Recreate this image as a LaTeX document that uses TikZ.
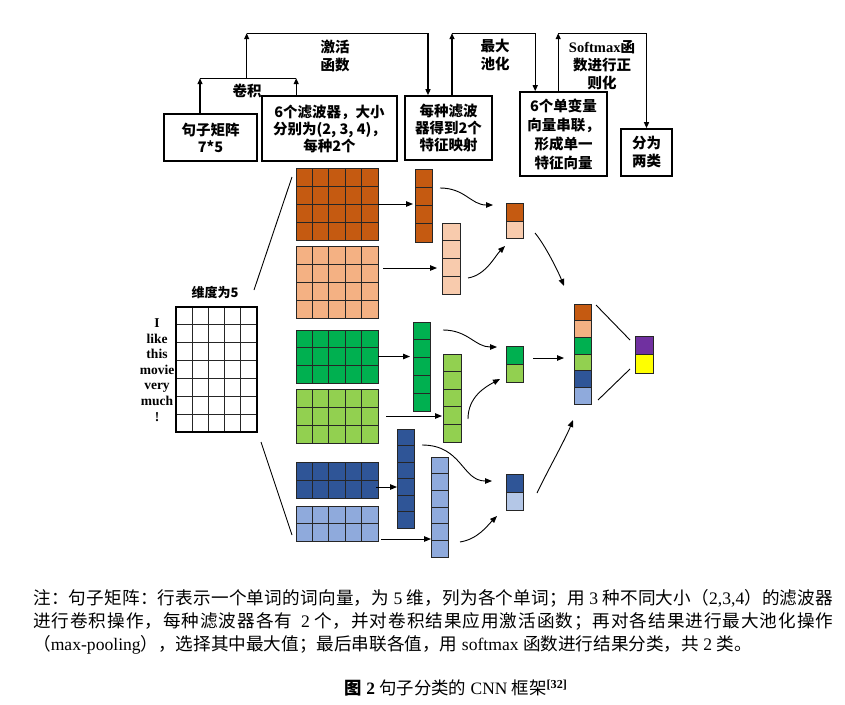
\documentclass[tikz,border=0pt]{standalone}
\usepackage{fontspec}
\setmainfont{Liberation Serif}
\newfontfamily\cjk{Noto Sans CJK SC}
\usetikzlibrary{arrows.meta,calc}
\definecolor{corg}{HTML}{C55A11}
\definecolor{cpch}{HTML}{F4B183}
\definecolor{cpcl}{HTML}{F8CBAD}
\definecolor{cgrn}{HTML}{00B050}
\definecolor{clgr}{HTML}{92D050}
\definecolor{cdbl}{HTML}{2F5597}
\definecolor{clbl}{HTML}{8FAADC}
\definecolor{clbx}{HTML}{B4C7E7}
\definecolor{cpur}{HTML}{7030A0}
\definecolor{cyel}{HTML}{FFFF00}
\newXeTeXintercharclass\mycjkclass
\count255="4E00
\loop
  \XeTeXcharclass\count255=\mycjkclass
  \advance\count255 by 1
\ifnum\count255<"9FB0 \repeat
\XeTeXcharclass"FF0C=\mycjkclass
\XeTeXcharclass"FF1A=\mycjkclass
\XeTeXcharclass"FF1B=\mycjkclass
\XeTeXcharclass"FF08=\mycjkclass
\XeTeXcharclass"FF09=\mycjkclass
\XeTeXcharclass"3002=\mycjkclass
\XeTeXinterchartoks\mycjkclass\mycjkclass={\hskip 0pt plus 1fil\relax}
\newcommand\mkblk[8]{\node[cells={#6}{#7}, fill=#8, minimum width={(#4)-(#2)}, minimum height={(#5)-(#3)}] (#1) at ({((#2)+(#4))/2},{((#3)+(#5))/2}) {};}
\tikzset{
  cells/.style 2 args={draw=black!85, line width=1pt, inner sep=0pt, outer sep=0pt,
    path picture={
      \pgfmathtruncatemacro\mycc{#1-1}\pgfmathtruncatemacro\myrr{#2-1}
      \ifnum\mycc>0
        \foreach \k in {1,...,\mycc}{\draw[line width=0.9pt,black!85] ($(path picture bounding box.south west)!\k/#1!(path picture bounding box.south east)$) -- ($(path picture bounding box.north west)!\k/#1!(path picture bounding box.north east)$);}
      \fi
      \ifnum\myrr>0
        \foreach \k in {1,...,\myrr}{\draw[line width=0.9pt,black!85] ($(path picture bounding box.north west)!\k/#2!(path picture bounding box.south west)$) -- ($(path picture bounding box.north east)!\k/#2!(path picture bounding box.south east)$);}
      \fi
    }},
  tbox/.style={draw, line width=1.6pt, inner sep=0pt, align=center,
    font=\cjk\bfseries\fontsize{14.5}{17}\selectfont},
  lbl/.style={inner sep=0pt, align=center, font=\cjk\bfseries\fontsize{14.5}{18}\selectfont},
  conn/.style={line width=1.3pt},
  tip/.style={-{Triangle[length=6pt,width=5pt]}},
  harr/.style={line width=1pt, -{Triangle[length=7pt,width=5.5pt]}},
  carr/.style={line width=0.9pt, -{Triangle[length=7pt,width=5.5pt]}},
  thinl/.style={line width=0.9pt},
  capl/.style={inner sep=0pt, anchor=west, font=\fontsize{17.6}{20}\selectfont},
}
\begin{document}
\begin{tikzpicture}[x=1pt,y=-1pt]
\useasboundingbox (0,0) rectangle (845,704);
\fill[white] (0,0) rectangle (845,704);

% top boxes
\node[tbox, minimum width=93pt, minimum height=47pt] (b1) at (210.5,137.5) {句子矩阵\\7*5};
\node[tbox, minimum width=135pt, minimum height=65pt] (b2) at (329.5,128.5) {6个滤波器，大小\\分别为(2, 3, 4)，\\每种2个};
\node[tbox, minimum width=87pt, minimum height=64pt] (b3) at (448.5,128) {每种滤波\\器得到2个\\特征映射};
\node[tbox, minimum width=87pt, minimum height=84pt, font=\cjk\bfseries\fontsize{14.5}{19}\selectfont] (b4) at (563.5,134) {6个单变量\\向量串联，\\形成单一\\特征向量};
\node[tbox, minimum width=51pt, minimum height=47pt, font=\cjk\bfseries\fontsize{14.5}{18}\selectfont] (b5) at (646.5,152.5) {分为\\两类};

% top connectors
\draw[conn,tip] ([xshift=-10.5pt]b1.north) -- ++(0,-35) coordinate (j1);
\draw[conn,tip] ([xshift=35pt]b2.north west) -- ++(0,-17) coordinate (j2);
\draw[conn] (j1) -- (j2);
\coordinate (j3) at ($(j1)!0.485!(j2)$);
\draw[conn,tip] (j3) -- ++(0,-45) coordinate (j4);
\draw[conn,tip] (j4) -| ([xshift=-20.5pt]b3.north);
\draw[conn,tip] ([xshift=3.5pt]b3.north) -- ++(0,-62) coordinate (j5);
\draw[conn,tip] (j5) -| ([xshift=16pt]b4.north west);
\draw[conn,tip] ([xshift=39pt]b4.north west) -- ++(0,-58) coordinate (j6);
\draw[conn,tip] (j6) -| (b5.north);

\node[lbl] (l1) at (247,91) {卷积};
\node[lbl] (l2) at (335,56) {激活\\函数};
\node[lbl] (l3) at (495,55) {最大\\池化};
\node[lbl] (l4) at (602,65) {{\rmfamily\bfseries Softmax}函\\数进行正\\则化};

% sentence matrix
\node[cells={5}{7}, fill=white, draw=black, line width=1.2pt, minimum width=81pt, minimum height=125pt] (mat) at (216.5,369.5) {};
\node[inner sep=0pt, align=center, font=\bfseries\fontsize{13.5}{15.6}\selectfont] (words) at (157,370) {I\\like\\this\\movie\\very\\much\\!};
\node[inner sep=0pt, font=\cjk\bfseries\fontsize{13}{15}\selectfont] (dim) at (215,293) {维度为5};

% filters
\mkblk{f1}{296}{168}{378}{240}{5}{4}{corg}
\mkblk{f2}{296}{246}{378}{318}{5}{4}{cpch}
\mkblk{f3}{296}{330}{378}{383}{5}{3}{cgrn}
\mkblk{f4}{296}{389}{378}{443}{5}{3}{clgr}
\mkblk{f5}{296}{462}{378}{498}{5}{2}{cdbl}
\mkblk{f6}{296}{506}{378}{541}{5}{2}{clbl}
% feature maps
\mkblk{m1}{415}{169}{432}{242}{1}{4}{corg}
\mkblk{m2}{442}{223}{460}{294}{1}{4}{cpcl}
\mkblk{m3}{413}{322}{430}{411}{1}{5}{cgrn}
\mkblk{m4}{443}{354}{461}{442}{1}{5}{clgr}
\mkblk{m5}{397}{429}{414}{528}{1}{6}{cdbl}
\mkblk{m6}{431}{457}{448}{557}{1}{6}{clbl}
% pooled
\mkblk{p1a}{506}{203}{523}{221}{1}{1}{corg}
\mkblk{p1b}{506}{221}{523}{238}{1}{1}{cpcl}
\mkblk{p2a}{506}{346}{523}{364}{1}{1}{cgrn}
\mkblk{p2b}{506}{364}{523}{382}{1}{1}{clgr}
\mkblk{p3a}{506}{474}{523}{492}{1}{1}{cdbl}
\mkblk{p3b}{506}{492}{523}{510}{1}{1}{clbx}
% concatenated
\mkblk{c1}{574}{304}{591}{320.7}{1}{1}{corg}
\mkblk{c2}{574}{320.7}{591}{337.3}{1}{1}{cpch}
\mkblk{c3}{574}{337.3}{591}{354}{1}{1}{cgrn}
\mkblk{c4}{574}{354}{591}{370.7}{1}{1}{clgr}
\mkblk{c5}{574}{370.7}{591}{387.3}{1}{1}{cdbl}
\mkblk{c6}{574}{387.3}{591}{404}{1}{1}{clbl}
% output
\mkblk{o1}{635}{336}{653}{354.5}{1}{1}{cpur}
\mkblk{o2}{635}{354.5}{653}{373}{1}{1}{cyel}

% matrix to filters
\draw[thinl] ([shift={(-3,-17)}]mat.north east) -- ([shift={(-4,9)}]f1.north west);
\draw[thinl] ([shift={(4,10)}]mat.south east) -- ([shift={(-4,-6)}]f6.south west);

% filters to maps
\draw[harr] (f1.east) -- ([xshift=-2pt]f1.east -| m1.west);
\coordinate (s2) at ([shift={(5,22)}]f2.north east);
\draw[harr] (s2) -- ([xshift=-5pt]s2 -| m2.west);
\draw[harr] (f3.east) -- ([xshift=-3pt]f3.east -| m3.west);
\draw[harr] ([xshift=8pt]f4.east) -- ([xshift=-1pt]f4.east -| m4.west);
\coordinate (s5) at ([shift={(-2,7)}]f5.east);
\draw[harr] (s5) -- (s5 -| m5.west);
\coordinate (s6) at ([shift={(3,15.5)}]f6.east);
\draw[harr] (s6) -- (s6 -| m6.west);

% maps to pooled
\draw[carr] ([shift={(8,19)}]m1.north east) .. controls +(25,0) and +(-22,0) .. ([shift={(-13,2)}]p1a.north west);
\draw[carr] ([shift={(8,55)}]m2.north east) .. controls +(18,-3) and +(-10,10) .. ([shift={(-1,8)}]p1b.south west);
\draw[carr] ([shift={(13,8)}]m3.north east) .. controls +(25,0) and +(-22,0) .. ([shift={(-9,1)}]p2a.north west);
\draw[carr] ([shift={(7,65)}]m4.north east) .. controls +(0,-22) and +(-15,8) .. ([shift={(-6,-3)}]p2b.south west);
\draw[carr] ([shift={(8,16)}]m5.north east) .. controls +(40,0) and +(-30,0) .. ([shift={(-14,7)}]p3a.north west);
\draw[carr] ([shift={(12,85)}]m6.north east) .. controls +(18,-3) and +(-10,10) .. ([shift={(-9,6)}]p3b.south west);

% pooled to concat
\draw[carr] ([shift={(12,-5)}]p1b.south east) .. controls +(10,12) and +(-6,-15) .. ([shift={(-10,-18)}]c1.north west);
\draw[carr] ([shift={(10,-6)}]p2a.south east) -- ([shift={(-10,4)}]c4.north west);
\draw[carr] ([shift={(14,1)}]p3a.south east) .. controls +(12,-25) and +(-8,20) .. ([shift={(-1,16)}]c6.south west);

% concat to output
\draw[thinl] ([shift={(5,1)}]c1.north east) -- ([shift={(-5,4)}]o1.north west);
\draw[thinl] ([shift={(7,-4)}]c6.south east) -- ([shift={(-5,-4)}]o2.south west);

% caption
\node[capl] (cap1) at (33,598) {\XeTeXinterchartokenstate=1 \makebox[800pt][s]{{\cjk 注：句子矩阵：行表示一个单词的词向量，为}\ 5\ {\cjk 维，列为各个单词；用}\ 3\ {\cjk 种不同大小（}2,3,4{\cjk ）的滤波器}}};
\node[capl] (cap2) at (33,621) {\XeTeXinterchartokenstate=1 \makebox[800pt][s]{{\cjk 进行卷积操作，每种滤波器各有}\ \ 2\ {\cjk 个，并对卷积结果应用激活函数；再对各结果进行最大池化操作}}};
\node[capl] (cap3) at (33,645) {{\cjk （}max-pooling{\cjk ），选择其中最大值；最后串联各值，用} softmax {\cjk 函数进行结果分类，共} 2 {\cjk 类。}};
\node[inner sep=0pt, font=\fontsize{17.4}{20}\selectfont] (title) at (456,688) {{\cjk\bfseries 图} {\bfseries 2} {\cjk 句子分类的} CNN {\cjk 框架}\textsuperscript{\bfseries [32]}};
\end{tikzpicture}
\end{document}
